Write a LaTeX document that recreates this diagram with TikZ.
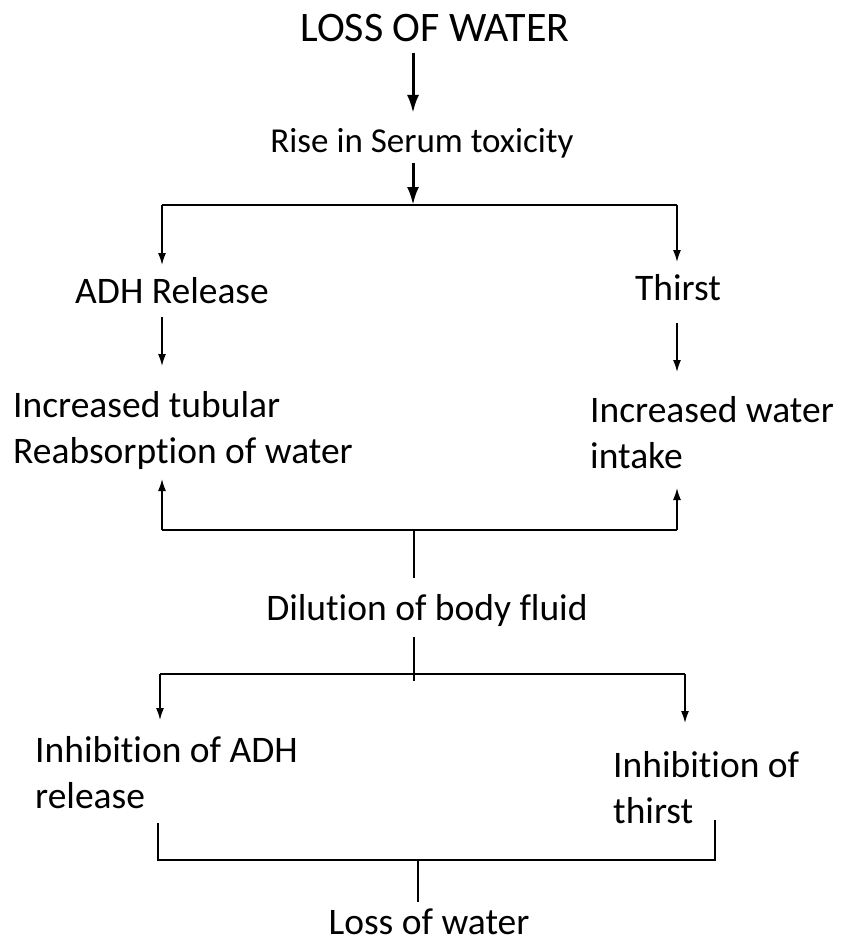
\documentclass[tikz,border=0pt]{standalone}
\usepackage{fontspec}
\setmainfont{Carlito}[Ligatures=NoCommon]
\usetikzlibrary{positioning, arrows.meta, calc}

\begin{document}
\begin{tikzpicture}[
    x=1pt, y=-1pt,
    lbl/.style={inner sep=0pt, align=left, font=\fontsize{37.5}{46}\selectfont},
    arrow/.style={-{Latex[length=12pt, width=8pt]}, line width=1.5pt},
    bigarrow/.style={-{Latex[length=18pt, width=12pt]}, line width=3pt},
    line/.style={line width=1.5pt}
  ]
    \useasboundingbox (0,0) rectangle (840,947);

    % Nodes
    \node[lbl, anchor=base, font=\fontsize{42}{46}\selectfont] (loss) at (435,42) {LOSS OF WATER};
    \node[lbl, anchor=base, font=\fontsize{35}{46}\selectfont] (rise) at (422,152) {Rise in Serum toxicity};
    \node[lbl, anchor=base] (adh) at (172,303) {ADH Release};
    \node[lbl, anchor=base] (thirst) at (678,300) {Thirst};
    \node[lbl, anchor=base west] (tubular) at (13,463) {Increased tubular\\Reabsorption of water};
    \node[lbl, anchor=base west] (intake) at (590,468) {Increased water\\intake};
    \node[lbl, anchor=base] (dilution) at (427,620) {Dilution of body fluid};
    \node[lbl, anchor=base west] (inhadh) at (35,808) {Inhibition of ADH\\release};
    \node[lbl, anchor=base west] (inhthirst) at (613,823) {Inhibition of\\thirst};
    \node[lbl, anchor=base, text depth=0pt] (water) at (429,934) {Loss of water};

    % Junctions
    \coordinate (split1) at (413,205);
    \coordinate (s1l) at (162,205);
    \coordinate (s1r) at (677,205);
    \coordinate (join1) at (414,530);
    \coordinate (j1l) at (162,530);
    \coordinate (j1r) at (677,530);
    \coordinate (split2) at (414,674);
    \coordinate (s2l) at (160,674);
    \coordinate (s2r) at (685,674);
    \coordinate (join2) at (418,860);
    \coordinate (j2l) at (158,860);
    \coordinate (j2r) at (715,860);

    % Arrows
    \draw[bigarrow] ($(loss.base -| split1)+(0,11)$) -- ($(rise.base -| split1)+(0,-39)$);
    \draw[bigarrow] ($(rise.base -| split1)+(0,11)$) -- (split1);
    \draw[line] (s1l) -- (s1r);
    \draw[arrow] (s1l) -- ($(adh.base -| s1l)+(0,-38)$);
    \draw[arrow] (s1r) -- ($(thirst.base -| s1r)+(0,-38)$);
    \draw[arrow] ($(adh.base -| s1l)+(0,14)$) -- ($(tubular.base -| s1l)+(0,-97)$);
    \draw[arrow] ($(thirst.base -| s1r)+(0,23)$) -- ($(intake.base -| s1r)+(0,-96)$);

    \draw[line] (j1l) -- (j1r);
    \draw[arrow] (j1l) -- ($(tubular.base -| j1l)+(0,16)$);
    \draw[arrow] (j1r) -- ($(intake.base -| j1r)+(0,20)$);
    \draw[line] (join1) -- ($(dilution.base -| join1)+(0,-42)$);

    \draw[line] ($(dilution.base -| split2)+(0,17)$) -- ($(split2)+(0,7)$);
    \draw[line] (s2l) -- (s2r);
    \draw[arrow] (s2l) -- ($(inhadh.base -| s2l)+(0,-88)$);
    \draw[arrow] (s2r) -- ($(inhthirst.base -| s2r)+(0,-100)$);

    \draw[line] ($(inhadh.base -| j2l)+(0,15)$) -- (j2l) -- (j2r) -- ($(inhthirst.base -| j2r)+(0,-3)$);
    \draw[line] (join2) -- ($(water.base -| join2)+(0,-32)$);
  \end{tikzpicture}
\end{document}
